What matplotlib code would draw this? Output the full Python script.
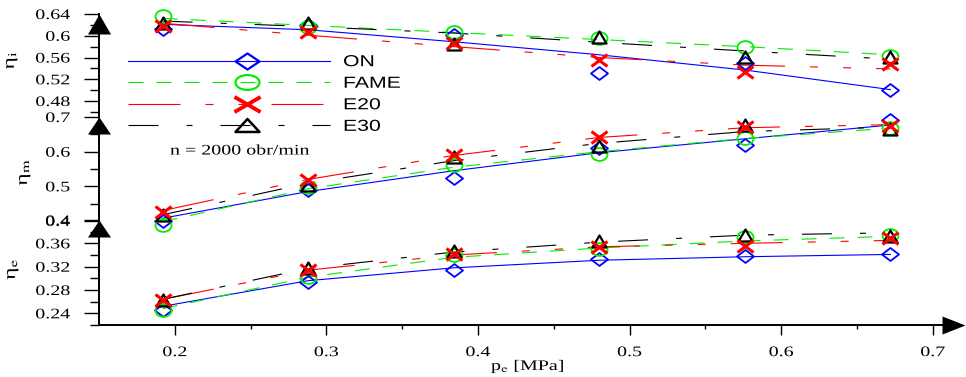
import numpy as np
import matplotlib
matplotlib.use('Agg')
import matplotlib.pyplot as plt
from matplotlib.path import Path
from matplotlib.transforms import Affine2D
from matplotlib.lines import Line2D
from matplotlib.legend_handler import HandlerLine2D
from matplotlib.patheffects import AbstractPathEffect
from matplotlib.ticker import FixedLocator, FuncFormatter

plt.rcParams['font.family'] = ['Liberation Serif', 'DejaVu Serif']
plt.rcParams['mathtext.fontset'] = 'stix'
plt.rcParams['lines.scale_dashes'] = False

# ---------------- data ----------------
pe = [0.192, 0.288, 0.384, 0.480, 0.576, 0.672]
series = ['ON', 'FAME', 'E20', 'E30']

# indicated efficiency (markers)
eta_i_ON = [0.612, 0.620, 0.601, 0.532, 0.549, 0.500]
eta_i_FAME = [0.636, 0.616, 0.607, 0.596, 0.579, 0.563]
eta_i_E20 = [0.618, 0.607, 0.587, 0.555, 0.534, 0.548]
eta_i_E30 = [0.623, 0.623, 0.585, 0.598, 0.561, 0.561]
# indicated efficiency (trend lines)
eta_i_ON_fit = [0.621, 0.611, 0.589, 0.565, 0.537, 0.501]
eta_i_FAME_fit = [0.632, 0.619, 0.606, 0.593, 0.580, 0.565]
eta_i_E20_fit = [0.623, 0.601, 0.580, 0.560, 0.546, 0.539]
eta_i_E30_fit = [0.627, 0.617, 0.605, 0.588, 0.572, 0.557]

# mechanical efficiency (markers)
eta_m_ON = [0.401, 0.490, 0.523, 0.612, 0.619, 0.691]
eta_m_FAME = [0.389, 0.497, 0.562, 0.593, 0.639, 0.667]
eta_m_E20 = [0.427, 0.518, 0.589, 0.641, 0.672, 0.674]
eta_m_E30 = [0.418, 0.505, 0.586, 0.616, 0.677, 0.665]
# mechanical efficiency (trend lines)
eta_m_ON_fit = [0.408, 0.485, 0.545, 0.597, 0.637, 0.677]
eta_m_FAME_fit = [0.398, 0.493, 0.555, 0.600, 0.638, 0.668]
eta_m_E20_fit = [0.430, 0.520, 0.589, 0.641, 0.669, 0.678]
eta_m_E30_fit = [0.418, 0.509, 0.574, 0.624, 0.658, 0.671]

# effective efficiency (markers)
eta_e_ON = [0.245, 0.294, 0.314, 0.333, 0.338, 0.342]
eta_e_FAME = [0.246, 0.303, 0.340, 0.351, 0.371, 0.374]
eta_e_E20 = [0.262, 0.314, 0.342, 0.353, 0.355, 0.369]
eta_e_E30 = [0.263, 0.317, 0.346, 0.364, 0.374, 0.373]
# effective efficiency (trend lines)
eta_e_ON_fit = [0.252, 0.296, 0.318, 0.331, 0.337, 0.341]
eta_e_FAME_fit = [0.248, 0.302, 0.336, 0.352, 0.364, 0.372]
eta_e_E20_fit = [0.264, 0.314, 0.340, 0.354, 0.360, 0.365]
eta_e_E30_fit = [0.264, 0.317, 0.345, 0.362, 0.374, 0.378]

x_ticks = [0.2, 0.3, 0.4, 0.5, 0.6, 0.7]
x_minor = [0.25, 0.35, 0.45, 0.55, 0.65]
i_ticks = [0.48, 0.52, 0.56, 0.60, 0.64]
i_minor = [0.46, 0.50, 0.54, 0.58, 0.62]
m_ticks = [0.4, 0.5, 0.6, 0.7]
m_minor = [0.45, 0.55, 0.65]
e_ticks = [0.24, 0.28, 0.32, 0.36, 0.40]
e_minor = [0.22, 0.26, 0.30, 0.34, 0.38]


# ---------------- helpers ----------------
class Stretch(AbstractPathEffect):
    """Widen text along its baseline (as in the source graphic)."""
    def __init__(self, sx=1.37, anchor='center'):
        super().__init__()
        self.sx = sx
        self.anchor = anchor

    def draw_path(self, renderer, gc, tpath, affine, rgbFace=None):
        ext = tpath.get_extents()
        if self.anchor == 'right':
            cx = ext.x1
        elif self.anchor == 'left':
            cx = 0.0
        else:
            cx = 0.5 * (ext.x0 + ext.x1)
        tr = Affine2D().translate(-cx, 0).scale(self.sx, 1).translate(cx, 0) + affine
        renderer.draw_path(gc, tpath, tr, rgbFace)


def diamond(r):
    return Path([(-1, 0), (0, r), (1, 0), (0, -r), (-1, 0)],
                [Path.MOVETO, Path.LINETO, Path.LINETO, Path.LINETO, Path.CLOSEPOLY])


def ellipse(r):
    return Affine2D().scale(1, r).transform_path(Path.unit_circle())


def cross(r):
    return Path([(-1, -r), (1, r), (-1, r), (1, -r)],
                [Path.MOVETO, Path.LINETO, Path.MOVETO, Path.LINETO])


def triangle(r):
    return Path([(-1, -r), (0, r), (1, -r), (-1, -r)],
                [Path.MOVETO, Path.LINETO, Path.LINETO, Path.CLOSEPOLY])


PT = 0.72  # points per pixel at 100 dpi
colors = {'ON': '#0000ff', 'FAME': '#00ee00', 'E20': '#ff0000', 'E30': '#000000'}
styles = {'ON': '-',
          'FAME': (0, (15 * PT, 13 * PT)),
          'E20': (0, (52 * PT, 25 * PT, 8 * PT, 25 * PT, 8 * PT, 25 * PT)),
          'E30': (0, (30 * PT, 28 * PT, 6 * PT, 28 * PT))}
data_markers = {'ON': (diamond(0.76), 17, 1.3),
                'FAME': (ellipse(0.8), 16, 1.3),
                'E20': (cross(0.75), 16, 2.2),
                'E30': (triangle(0.857), 14, 1.6)}
leg_markers = {'ON': (diamond(0.67), 24, 1.6),
               'FAME': (ellipse(0.62), 24, 1.6),
               'E20': (cross(0.58), 26, 2.8),
               'E30': (triangle(0.54), 24, 1.8)}

# ---------------- figure ----------------
W_PX, H_PX = 966, 377
fig = plt.figure(figsize=(W_PX / 100, H_PX / 100), dpi=100)

x0_px, x1_px = 99, 942


def fx(px):
    return px / W_PX


def fy(py):
    return 1 - py / H_PX


ax_e = fig.add_axes([fx(x0_px), fy(325), fx(x1_px - x0_px), 105 / H_PX])
ax_m = fig.add_axes([fx(x0_px), fy(221), fx(x1_px - x0_px), 104 / H_PX])
ax_i = fig.add_axes([fx(x0_px), fy(117), fx(x1_px - x0_px), 103 / H_PX])

panels = [
    (ax_i, (0.4506, 0.64), i_ticks, i_minor,
     {'ON': (eta_i_ON, eta_i_ON_fit), 'FAME': (eta_i_FAME, eta_i_FAME_fit),
      'E20': (eta_i_E20, eta_i_E20_fit), 'E30': (eta_i_E30, eta_i_E30_fit)}, 20),
    (ax_m, (0.4, 0.7), m_ticks, m_minor,
     {'ON': (eta_m_ON, eta_m_ON_fit), 'FAME': (eta_m_FAME, eta_m_FAME_fit),
      'E20': (eta_m_E20, eta_m_E20_fit), 'E30': (eta_m_E30, eta_m_E30_fit)}, 17),
    (ax_e, (0.22, 0.40), e_ticks, e_minor,
     {'ON': (eta_e_ON, eta_e_ON_fit), 'FAME': (eta_e_FAME, eta_e_FAME_fit),
      'E20': (eta_e_E20, eta_e_E20_fit), 'E30': (eta_e_E30, eta_e_E30_fit)}, 17),
]

fmt = FuncFormatter(lambda v, p: '%g' % round(v, 4))

for ax, ylim, ticks, minor, dat, arrow_h in panels:
    ax.set_xlim(0.15, 0.15 + (x1_px - x0_px) / 1516)
    ax.set_ylim(*ylim)
    ax.patch.set_visible(False)
    for s in ['top', 'right']:
        ax.spines[s].set_visible(False)
    ax.spines['left'].set_linewidth(1.4)
    ax.spines['bottom'].set_linewidth(1.4)
    if ax is not ax_e:
        ax.spines['bottom'].set_visible(False)
        ax.set_xticks([])
    ax.yaxis.set_major_locator(FixedLocator(ticks))
    ax.yaxis.set_minor_locator(FixedLocator(minor))
    ax.yaxis.set_major_formatter(fmt)
    ax.tick_params(axis='y', which='major', direction='out', length=10.8, width=1.0,
                   pad=10, labelsize=10.5)
    ax.tick_params(axis='y', which='minor', direction='out', length=6.5, width=1.0)
    # lines (trend) then markers
    for s in series:
        vals, fit = dat[s]
        ax.plot(pe, fit, color=colors[s], lw=0.8, ls=styles[s], zorder=2, clip_on=False)
    for s in ['ON', 'FAME', 'E30', 'E20']:
        vals, fit = dat[s]
        mpath, msz, mew = data_markers[s]
        ax.plot(pe, vals, ls='none', marker=mpath, ms=msz * PT, mew=mew,
                mfc='none', mec=colors[s], zorder=3, clip_on=False)
    # arrow head on the y axis
    w = 23
    ah = Path([(-w / 2, -arrow_h), (0, 0), (w / 2, -arrow_h), (-w / 2, -arrow_h)],
              [Path.MOVETO, Path.LINETO, Path.LINETO, Path.CLOSEPOLY])
    ax.plot([0], [1], transform=ax.transAxes, marker=ah,
            ms=2 * max(w / 2, arrow_h) * PT, color='black', mew=0, clip_on=False, zorder=5)
    for lab in ax.get_yticklabels():
        lab.set_path_effects([Stretch(1.37, 'right')])

# x axis
ax_e.xaxis.set_major_locator(FixedLocator(x_ticks))
ax_e.xaxis.set_minor_locator(FixedLocator(x_minor))
ax_e.xaxis.set_major_formatter(fmt)
ax_e.tick_params(axis='x', which='major', direction='out', length=7.2, width=1.0,
                 pad=8, labelsize=10.5)
ax_e.tick_params(axis='x', which='minor', direction='out', length=3, width=1.0)
for lab in ax_e.get_xticklabels():
    lab.set_path_effects([Stretch(1.37, 'center')])
xa = Path([(0, -9), (23, 0), (0, 9), (0, -9)],
          [Path.MOVETO, Path.LINETO, Path.LINETO, Path.CLOSEPOLY])
ax_e.plot([1], [0], transform=ax_e.transAxes, marker=xa, ms=46 * PT,
          color='black', mew=0, clip_on=False, zorder=5)

xl = ax_e.set_xlabel(r'p$_\mathrm{e}$ [MPa]', fontsize=10.5)
ax_e.xaxis.set_label_coords(0.509, -0.315)
xl.set_path_effects([Stretch(1.37, 'center')])

# y labels
for txt, px, py in [(r'η$_\mathrm{i}$', 12, 60), (r'η$_\mathrm{m}$', 25, 172),
                    (r'η$_\mathrm{e}$', 13, 269)]:
    t = fig.text(fx(px), fy(py), txt, rotation=90, ha='center', va='center', fontsize=12)
    t.set_path_effects([Stretch(1.4, 'center')])

t = fig.text(fx(170), fy(151), 'n = 2000 obr/min', ha='left', va='center', fontsize=10.5)
t.set_path_effects([Stretch(1.37, 'left')])


# legend
class OffsetHandler(HandlerLine2D):
    def create_artists(self, legend, orig_handle, xdescent, ydescent, width, height,
                       fontsize, trans):
        arts = super().create_artists(legend, orig_handle, xdescent, ydescent, width,
                                      height, fontsize, trans)
        line = arts[0]
        x = np.asarray(line.get_xdata(), float)
        line.set_xdata([x[0], x[0] + 0.59 * (x[-1] - x[0]), x[-1]])
        return arts


handles = []
for s in series:
    mpath, msz, mew = leg_markers[s]
    handles.append(Line2D([], [], color=colors[s], lw=0.8, ls=styles[s], marker=mpath,
                          ms=msz * PT, mew=mew, mfc='none', mec=colors[s]))
fs = 11.5
fs_px = fs / PT
leg = fig.legend(handles, series, loc='center left', bbox_to_anchor=(fx(128), fy(94)),
                 frameon=False, handlelength=202 / fs_px, handletextpad=13 / fs_px,
                 borderpad=0, borderaxespad=0, labelspacing=0.41, numpoints=1,
                 prop={'family': 'Liberation Sans', 'size': fs},
                 handler_map={Line2D: OffsetHandler()})
for t in leg.get_texts():
    t.set_path_effects([Stretch(1.33, 'left')])

fig.savefig('out.png', dpi=100)
